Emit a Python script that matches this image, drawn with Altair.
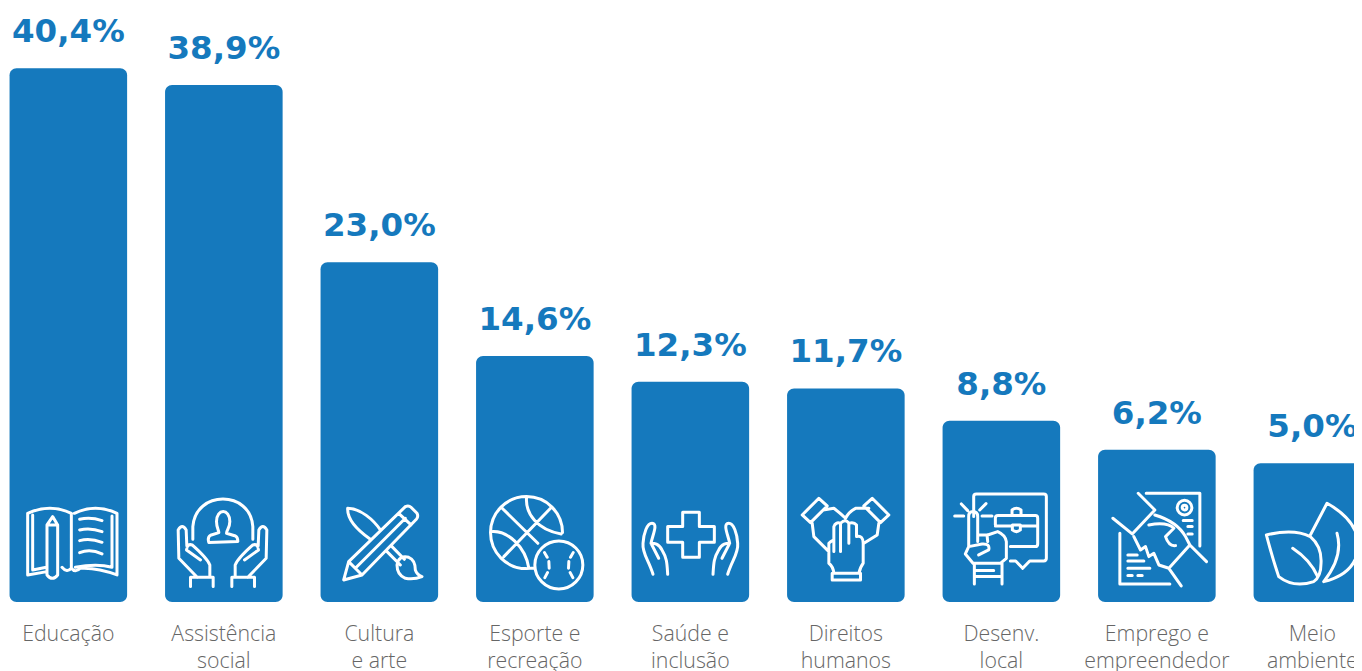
import re
import altair as alt
import pandas as pd

categories = ["Educação", "Assistência|social", "Cultura|e arte", "Esporte e|recreação",
              "Saúde e|inclusão", "Direitos|humanos", "Desenv.|local", "Emprego e|empreendedor", "Meio|ambiente"]
values = [40.4, 38.9, 23.0, 14.6, 12.3, 11.7, 8.8, 6.2, 5.0]
labels = ["40,4%", "38,9%", "23,0%", "14,6%", "12,3%", "11,7%", "8,8%", "6,2%", "5,0%"]

AXIS_MIN = -7.44
AXIS_MAX = 45.79
ICON_LEVEL = -1.88
BLUE = "#1579BD"


def circle(cx, cy, r):
    k = r * 0.552
    return (f"M{cx+r} {cy} C{cx+r} {cy-k} {cx+k} {cy-r} {cx} {cy-r} "
            f"C{cx-k} {cy-r} {cx-r} {cy-k} {cx-r} {cy} "
            f"C{cx-r} {cy+k} {cx-k} {cy+r} {cx} {cy+r} "
            f"C{cx+k} {cy+r} {cx+r} {cy+k} {cx+r} {cy} Z ")


def icon(path, cx, cy):
    """Normalise a line drawing to the -1..1 box of a custom Vega symbol."""
    def pair(m):
        return f"{(float(m.group(1))-cx)/150:.4f} {(float(m.group(2))-cy)/150:.4f}"
    return re.sub(r"(-?[\d.]+)\s+(-?[\d.]+)", pair, path)


book = ("M82 100 Q150 70 213 100 L213 262 M222 100 Q285 70 350 100 L350 285 Q290 262 240 265 "
        "M82 100 L82 285 L140 275 M97 105 L97 270 L138 262 M335 108 L335 262 Q290 250 225 262 "
        "M140 285 L140 135 L157 110 L172 135 L172 285 Q156 305 140 285 Z M140 135 L172 135 "
        "M238 118 Q270 110 305 122 M238 150 Q270 142 305 155 M238 182 Q270 174 305 187 M238 218 Q270 205 305 222 "
        "M185 262 Q200 280 213 265 Q225 280 240 265")
hands_person = ("M577 178 L577 140 C585 30 750 30 757 140 L757 178 "
                "M648 125 C648 85 688 85 688 125 C688 145 678 150 678 160 L705 168 Q712 172 712 185 L625 188 Q620 172 630 166 L655 158 C655 150 648 145 648 125 Z "
                "M570 320 L570 292 L638 292 L638 320 M628 292 L628 255 Q620 235 575 195 Q560 190 558 210 L600 240 "
                "M590 292 L535 235 L533 150 Q545 130 557 150 L559 198 "
                "M762 320 L762 292 L694 292 L694 320 M704 292 L704 255 Q712 235 757 195 Q772 190 774 210 L732 240 "
                "M742 292 L797 235 L799 150 Q787 130 775 150 L773 198")
pencil_brush = ("M1030 300 L1045 245 L1215 80 Q1225 75 1232 82 L1250 100 Q1255 110 1248 118 L1085 285 Z "
                "M1045 245 L1085 285 M1195 100 L1232 135 M1065 265 L1215 115 "
                "M1110 178 C1070 150 1040 120 1042 85 C1080 85 1120 120 1140 150 "
                "M1160 215 L1200 255 M1175 200 L1212 238 "
                "M1190 255 Q1195 225 1225 232 Q1245 240 1245 270 Q1250 285 1265 290 Q1240 300 1215 295 Q1190 285 1190 255 Z")
balls = ("M336 158 C336 98 288 50 228 50 C168 50 120 98 120 158 C120 218 168 266 228 266 L250 264 "
         "M155 85 L262 190 M300 85 L160 230 M228 55 C225 100 260 150 332 162 M122 155 C170 150 225 200 235 265 "
         + circle(325, 255, 72) +
         "M282 218 L290 232 M295 245 L296 265 M291 278 L283 293 M368 218 L360 232 M355 245 L354 265 M359 278 L367 293")
cross_hands = ("M697 97 L747 97 L747 140 L792 140 L792 187 L747 187 L747 232 L697 232 L697 187 L652 187 L652 140 L697 140 Z "
               "M608 283 C595 240 575 220 578 190 C580 160 590 130 605 130 C625 130 605 170 602 190 L625 235 "
               "M652 283 C650 250 650 235 635 210 C625 190 612 190 602 190 "
               "M832 283 C845 240 865 220 862 190 C860 160 850 130 835 130 C815 130 835 170 838 190 L815 235 "
               "M788 283 C790 250 790 235 805 210 C815 190 828 190 838 190")
three_hands = ("M1055 105 L1105 55 L1130 78 L1080 128 Z M1315 105 L1265 55 L1240 78 L1290 128 Z "
               "M1118 90 L1150 85 Q1170 100 1185 115 M1085 130 L1090 170 L1135 215 "
               "M1255 85 L1215 85 Q1195 95 1185 115 M1285 130 L1280 165 L1240 190 "
               "M1150 215 L1150 140 Q1155 125 1170 130 L1170 215 M1170 130 Q1185 115 1195 130 L1195 190 "
               "M1195 130 Q1210 125 1218 135 L1218 170 Q1238 165 1238 190 L1238 250 Q1230 260 1225 280 L1150 280 Q1148 260 1135 250 L1135 190 Q1140 185 1150 180 "
               "M1145 280 L1230 280 L1230 300 L1145 300 Z")
board = ("M190 350 L190 290 Q190 282 198 282 L400 282 Q408 282 408 290 L408 475 Q408 483 400 483 L358 483 L337 505 L316 483 L300 483 "
         "M255 375 L255 355 Q255 347 263 347 L375 347 Q382 347 382 355 L382 432 Q382 440 375 440 L300 440 "
         "M255 378 L305 378 M332 378 L382 378 M305 347 L305 330 Q318 320 332 330 L332 347 "
         "M306 375 L306 390 Q318 400 330 390 L330 375 Z "
         "M133 348 L160 348 M215 348 L245 348 M153 312 L172 332 M208 330 L227 311 "
         "M175 440 L175 350 Q175 335 188 335 Q202 335 202 350 L202 425 "
         "M202 405 L230 405 L232 425 M232 405 L262 395 Q285 405 288 425 L288 475 L270 490 L188 490 L165 462 L175 440 L215 432 Q240 430 235 450 L205 465 "
         "M192 490 L192 552 M275 490 L275 552 M192 512 L250 512 M192 530 L275 530")
handshake = ("M707 280 L868 280 L868 438 M628 400 L628 552 L778 552 "
             "M683 280 L733 330 L665 402 L607 355 M888 485 L838 435 L775 505 L812 558 "
             "M733 345 Q800 365 825 410 L838 435 "
             "M670 410 L690 450 L705 440 L715 470 L730 460 L745 495 L775 505 "
             "M715 375 Q770 365 790 385 L765 410 Q775 440 795 437 "
             + circle(822, 323, 22) + circle(822, 323, 7) +
             "M818 362 L845 362 M832 380 L845 380 M832 402 L845 402 "
             "M652 465 L680 465 M652 483 L700 483 M652 505 L718 505 M652 527 L665 527 M682 527 L695 527")
leaves = ("M1068 405 Q1150 385 1200 410 Q1235 440 1232 490 Q1232 530 1210 545 Q1150 565 1105 530 Q1085 470 1068 405 Z "
          "M1147 445 Q1200 480 1222 530 "
          "M1200 405 L1250 310 Q1340 360 1345 435 Q1340 520 1240 545 M1280 400 Q1300 470 1240 545")

icons = [icon(book, 204, 180), icon(hands_person, 670, 180), icon(pencil_brush, 1137, 180),
         icon(balls, 253, 180), icon(cross_hands, 720, 180), icon(three_hands, 1186, 180),
         icon(board, 273, 420), icon(handshake, 739, 420), icon(leaves, 1206, 420)]

df = pd.DataFrame({"cat": categories, "val": values, "lab": labels, "icon": icons})

x = alt.X("cat:N", sort=categories, title=None,
          scale=alt.Scale(paddingInner=0.244, paddingOuter=0.01, range=[0, 1364.7]),
          axis=alt.Axis(domain=False, ticks=False, labelAngle=0, labelFont="Open Sans", labelFontWeight=300,
                        labelFontSize=21.3, labelColor="#666666", labelPadding=21, labelLineHeight=27,
                        labelBaseline="top", labelLimit=300, labelOverlap=False,
                        labelExpr="split(datum.label,'|')"))
y = alt.Y("val:Q", title=None, scale=alt.Scale(domain=[AXIS_MIN, AXIS_MAX], nice=False, zero=False), axis=None)

bars = alt.Chart(df).mark_bar(color=BLUE, cornerRadius=7, clip=True).encode(x=x, y=y, y2=alt.datum(AXIS_MIN))
text = alt.Chart(df).mark_text(font="DejaVu Sans", fontWeight="bold", fontSize=32.5, color=BLUE,
                               align="center", baseline="alphabetic", dy=-26).encode(x=x, y=y, text="lab:N")
glyphs = alt.Chart(df).mark_point(filled=False, color="white", strokeWidth=3, opacity=1, clip=True,
                                  strokeCap="round", strokeJoin="round").encode(
    x=x, y=alt.datum(ICON_LEVEL), shape=alt.Shape("icon:N", scale=None), size=alt.value(10000))

chart = (bars + text + glyphs).properties(
    width=1346, height=594,
    padding={"left": 0, "right": 0, "top": 0, "bottom": 69},
    autosize=alt.AutoSizeParams(type="none"),
).configure_view(stroke=None)
chart.save("out.html", embed_options={"renderer": "svg", "actions": False})
